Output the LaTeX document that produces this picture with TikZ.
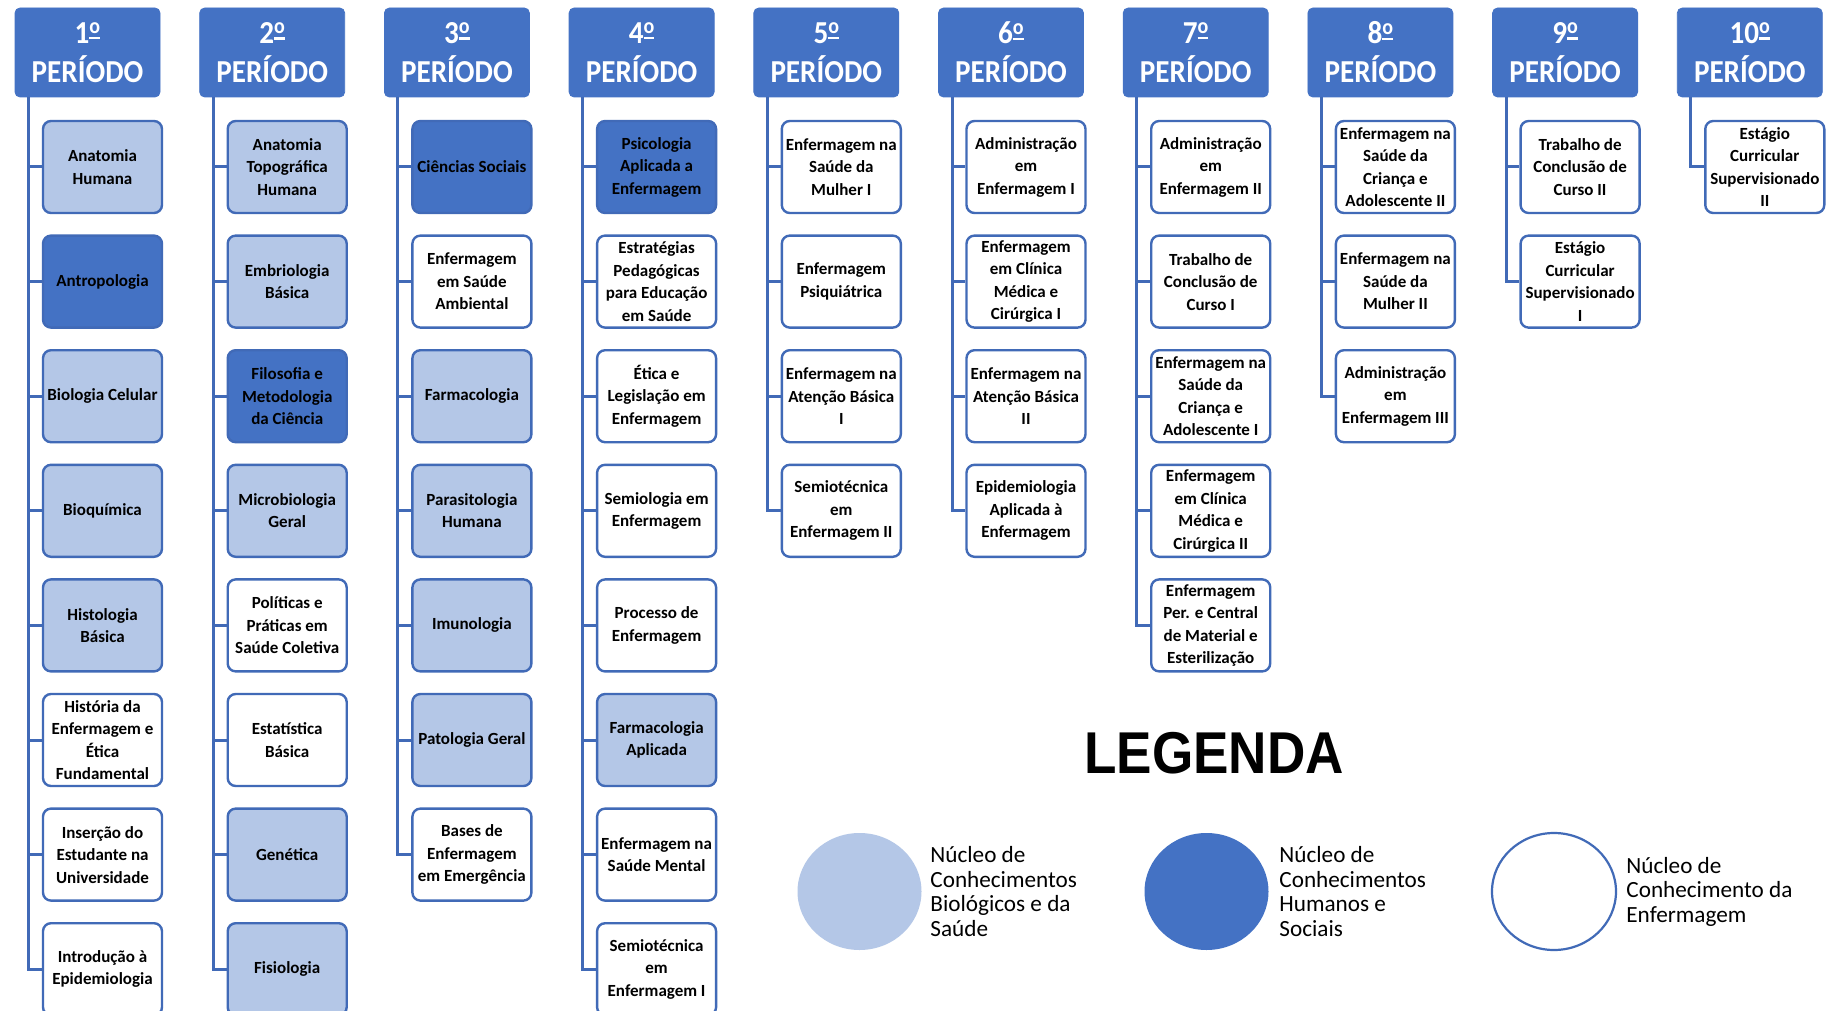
\documentclass[tikz,border=0pt]{standalone}
\usepackage{fontspec}
\setmainfont{Carlito}
\newfontfamily\periodofont[FakeStretch=0.91]{Carlito}
\newfontfamily\legendafont[FakeStretch=0.9]{Liberation Sans}
\usetikzlibrary{shapes.geometric}
\definecolor{ufBlue}{RGB}{68,114,196}
\definecolor{ufLight}{RGB}{180,199,231}
\definecolor{ufEdge}{RGB}{65,106,183}
% raised o over a bar, as in 1º
\newcommand{\ordo}{\rlap{\raisebox{4.8pt}{\fontsize{11}{11}\selectfont o}}\rule[1.9pt]{5.4pt}{1.2pt}}

\begin{document}
\begin{tikzpicture}[
      x=0.5pt,y=-0.5pt,
      periodo/.style={rectangle,rounded corners=2.5pt,fill=ufBlue,draw=ufBlue,
                  text=white,minimum width=72.5pt,minimum height=44.5pt,
                  align=center,inner sep=0pt,
                  font=\periodofont\bfseries\fontsize{16}{19.5}\selectfont},
      enf/.style={rectangle,rounded corners=4pt,draw=ufEdge,fill=white,
                  line width=1.2pt,minimum width=59.5pt,minimum height=46pt,
                  align=center,inner sep=0pt,
                  font=\bfseries\fontsize{8.5}{11.25}\selectfont},
      bio/.style={enf,fill=ufLight},
      hum/.style={enf,fill=ufBlue},
      tronco/.style={ufEdge,line width=1.5pt},
      nucleo/.style={ellipse,minimum width=62pt,minimum height=58.5pt,inner sep=0pt},
      nucleotxt/.style={anchor=west,align=left,inner sep=0pt,
                  font=\fontsize{11.6}{12.25}\selectfont}]

    \fill[white] (0,0) rectangle (1832,1011);
    \useasboundingbox (0,0) rectangle (1832,1011);

    % ---------- period headers and trunk start points ----------
    \foreach \p in {1,...,10} {
      \node[periodo] (p\p) at ({87.5+(\p-1)*184.7},52.5) {{\p}\ordo\\PERÍODO};
      \coordinate (t\p) at ({28.5+(\p-1)*184.7},97);
    }

    % ---------- 1st period ----------
    \node[bio] (d1-1) at (102.5,167)   {Anatomia\\Humana};
    \node[hum] (d1-2) at (102.5,281.6) {Antropologia};
    \node[bio] (d1-3) at (102.5,396.2) {Biologia Celular};
    \node[bio] (d1-4) at (102.5,510.8) {Bioquímica};
    \node[bio] (d1-5) at (102.5,625.4) {Histologia\\Básica};
    \node[enf] (d1-6) at (102.5,740)   {História da\\Enfermagem e\\Ética\\Fundamental};
    \node[enf] (d1-7) at (102.5,854.6) {Inserção do\\Estudante na\\Universidade};
    \node[enf] (d1-8) at (102.5,969.2) {Introdução à\\Epidemiologia};

    % ---------- 2nd period ----------
    \node[bio] (d2-1) at (287.2,167)   {Anatomia\\Topográfica\\Humana};
    \node[bio] (d2-2) at (287.2,281.6) {Embriologia\\Básica};
    \node[hum] (d2-3) at (287.2,396.2) {Filosofia e\\Metodologia\\da Ciência};
    \node[bio] (d2-4) at (287.2,510.8) {Microbiologia\\Geral};
    \node[enf] (d2-5) at (287.2,625.4) {Políticas e\\Práticas em\\Saúde Coletiva};
    \node[enf] (d2-6) at (287.2,740)   {Estatística\\Básica};
    \node[bio] (d2-7) at (287.2,854.6) {Genética};
    \node[bio] (d2-8) at (287.2,969.2) {Fisiologia};

    % ---------- 3rd period ----------
    \node[hum] (d3-1) at (471.9,167)   {Ciências Sociais};
    \node[enf] (d3-2) at (471.9,281.6) {Enfermagem\\em Saúde\\Ambiental};
    \node[bio] (d3-3) at (471.9,396.2) {Farmacologia};
    \node[bio] (d3-4) at (471.9,510.8) {Parasitologia\\Humana};
    \node[bio] (d3-5) at (471.9,625.4) {Imunologia};
    \node[bio] (d3-6) at (471.9,740)   {Patologia Geral};
    \node[enf] (d3-7) at (471.9,854.6) {Bases de\\Enfermagem\\em Emergência};

    % ---------- 4th period ----------
    \node[hum] (d4-1) at (656.6,167)   {Psicologia\\Aplicada a\\Enfermagem};
    \node[enf] (d4-2) at (656.6,281.6) {Estratégias\\Pedagógicas\\para Educação\\em Saúde};
    \node[enf] (d4-3) at (656.6,396.2) {Ética e\\Legislação em\\Enfermagem};
    \node[enf] (d4-4) at (656.6,510.8) {Semiologia em\\Enfermagem};
    \node[enf] (d4-5) at (656.6,625.4) {Processo de\\Enfermagem};
    \node[bio] (d4-6) at (656.6,740)   {Farmacologia\\Aplicada};
    \node[enf] (d4-7) at (656.6,854.6) {Enfermagem na\\Saúde Mental};
    \node[enf] (d4-8) at (656.6,969.2) {Semiotécnica\\em\\Enfermagem I};

    % ---------- 5th period ----------
    \node[enf] (d5-1) at (841.3,167)   {Enfermagem na\\Saúde da\\Mulher I};
    \node[enf] (d5-2) at (841.3,281.6) {Enfermagem\\Psiquiátrica};
    \node[enf] (d5-3) at (841.3,396.2) {Enfermagem na\\Atenção Básica\\I};
    \node[enf] (d5-4) at (841.3,510.8) {Semiotécnica\\em\\Enfermagem II};

    % ---------- 6th period ----------
    \node[enf] (d6-1) at (1026,167)   {Administração\\em\\Enfermagem I};
    \node[enf] (d6-2) at (1026,281.6) {Enfermagem\\em Clínica\\Médica e\\Cirúrgica I};
    \node[enf] (d6-3) at (1026,396.2) {Enfermagem na\\Atenção Básica\\II};
    \node[enf] (d6-4) at (1026,510.8) {Epidemiologia\\Aplicada à\\Enfermagem};

    % ---------- 7th period ----------
    \node[enf] (d7-1) at (1210.7,167)   {Administração\\em\\Enfermagem II};
    \node[enf] (d7-2) at (1210.7,281.6) {Trabalho de\\Conclusão de\\Curso I};
    \node[enf] (d7-3) at (1210.7,396.2) {Enfermagem na\\Saúde da\\Criança e\\Adolescente I};
    \node[enf] (d7-4) at (1210.7,510.8) {Enfermagem\\em Clínica\\Médica e\\Cirúrgica II};
    \node[enf] (d7-5) at (1210.7,625.4) {Enfermagem\\Per. e Central\\de Material e\\Esterilização};

    % ---------- 8th period ----------
    \node[enf] (d8-1) at (1395.4,167)   {Enfermagem na\\Saúde da\\Criança e\\Adolescente II};
    \node[enf] (d8-2) at (1395.4,281.6) {Enfermagem na\\Saúde da\\Mulher II};
    \node[enf] (d8-3) at (1395.4,396.2) {Administração\\em\\Enfermagem III};

    % ---------- 9th and 10th periods ----------
    \node[enf] (d9-1) at (1580.1,167)   {Trabalho de\\Conclusão de\\Curso II};
    \node[enf] (d9-2) at (1580.1,281.6) {Estágio\\Curricular\\Supervisionado\\I};
    \node[enf] (d10-1) at (1764.8,167)  {Estágio\\Curricular\\Supervisionado\\II};

    % ---------- trunks and branches ----------
    \foreach \c/\n in {1/8,2/8,3/7,4/8,5/4,6/4,7/5,8/3,9/2,10/1} {
      \draw[tronco] (t\c) |- (d\c-\n.west);
      \foreach \k in {1,...,\n} \draw[tronco] (t\c |- d\c-\k) -- (d\c-\k.west);
    }

    % ---------- legend ----------
    \node[font=\legendafont\bfseries\fontsize{29.5}{30}\selectfont] (leg) at (1214,753) {LEGENDA};
    \node[nucleo,fill=ufLight] (n1) at (859.5,891.5) {};
    \node[nucleo,fill=ufBlue]  (n2) at (1206.5,891.5) {};
    \node[nucleo,fill=white,draw=ufEdge,line width=1.1pt] (n3) at (1554,891.5) {};
    \node[nucleotxt] (n1t) at (930,891.5)  {Núcleo de\\Conhecimentos\\Biológicos e da\\Saúde};
    \node[nucleotxt] (n2t) at (1279,891.5) {Núcleo de\\Conhecimentos\\Humanos e\\Sociais};
    \node[nucleotxt] (n3t) at (1626,891.5) {Núcleo de\\Conhecimento da\\Enfermagem};
  \end{tikzpicture}
\end{document}
